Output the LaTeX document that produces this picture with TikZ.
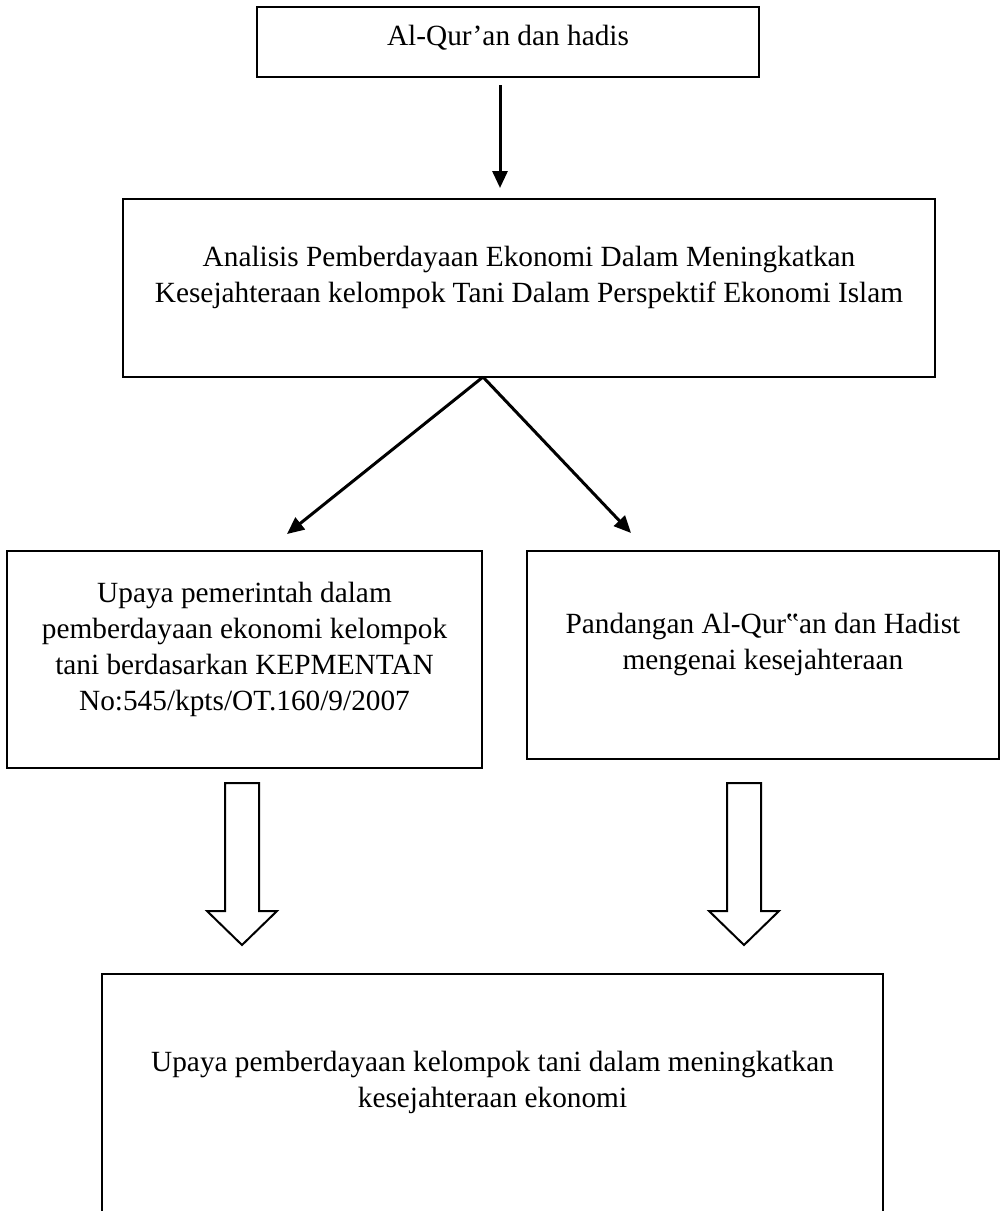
\documentclass[tikz,border=0pt]{standalone}
\usepackage{fontspec}
\setmainfont{Liberation Serif}
\usetikzlibrary{arrows.meta}
\begin{document}
\begin{tikzpicture}[x=0.5pt,y=-0.5pt,
  box/.style={draw=black,line width=1.3pt,rectangle,inner sep=0pt},
  txt/.style={align=center,font=\fontsize{14.65}{18}\selectfont,inner sep=0pt},
  conn/.style={line width=1.5pt,-{Triangle[length=8.5pt,width=7.5pt]}},
  blockarrow/.style={draw=black,line width=1pt,fill=white,line join=miter}]
\useasboundingbox (0,0) rectangle (1004,1211);
\clip (0,0) rectangle (1004,1211);
% boxes
\node[box,minimum width=251pt,minimum height=35pt] (top) at (508,42) {};
\node[txt] (toptxt) at (508,38) {Al-Qur’an dan hadis};
\node[box,minimum width=406pt,minimum height=89pt] (mid) at (529,288) {};
\node[txt] (midtxt) at (529,277) {Analisis Pemberdayaan Ekonomi Dalam Meningkatkan\\Kesejahteraan kelompok Tani Dalam Perspektif Ekonomi Islam};
\node[box,minimum width=237.5pt,minimum height=108.5pt] (left) at (244.5,659.5) {};
\node[txt] (lefttxt) at (244.5,649) {Upaya pemerintah dalam\\pemberdayaan ekonomi kelompok\\tani berdasarkan KEPMENTAN\\No:545/kpts/OT.160/9/2007};
\node[box,minimum width=236pt,minimum height=104pt] (right) at (763,655) {};
\node[txt] (righttxt) at (763,644) {Pandangan Al-Qur‟an dan Hadist\\mengenai kesejahteraan};
\node[box,minimum width=390.5pt,minimum height=128pt] (bot) at (492.5,1102) {};
\node[txt] (bottxt) at (492.5,1082) {Upaya pemberdayaan kelompok tani dalam meningkatkan\\kesejahteraan ekonomi};
% connectors
\coordinate (topout) at (500,85);
\coordinate (midin) at (500,188);
\draw[conn] (topout) -- (midin);
\coordinate (split) at (483,377);
\coordinate (leftin) at (287,534);
\coordinate (rightin) at (631,533);
\draw[conn] (split) -- (leftin);
\draw[conn] (split) -- (rightin);
% block arrows
\draw[blockarrow] (225,783) -- (259,783) -- (259,911) -- (277,911) -- (242,945) -- (207,911) -- (225,911) -- cycle;
\draw[blockarrow] (727,783) -- (761,783) -- (761,911) -- (779,911) -- (744,945) -- (709,911) -- (727,911) -- cycle;
\end{tikzpicture}
\end{document}
